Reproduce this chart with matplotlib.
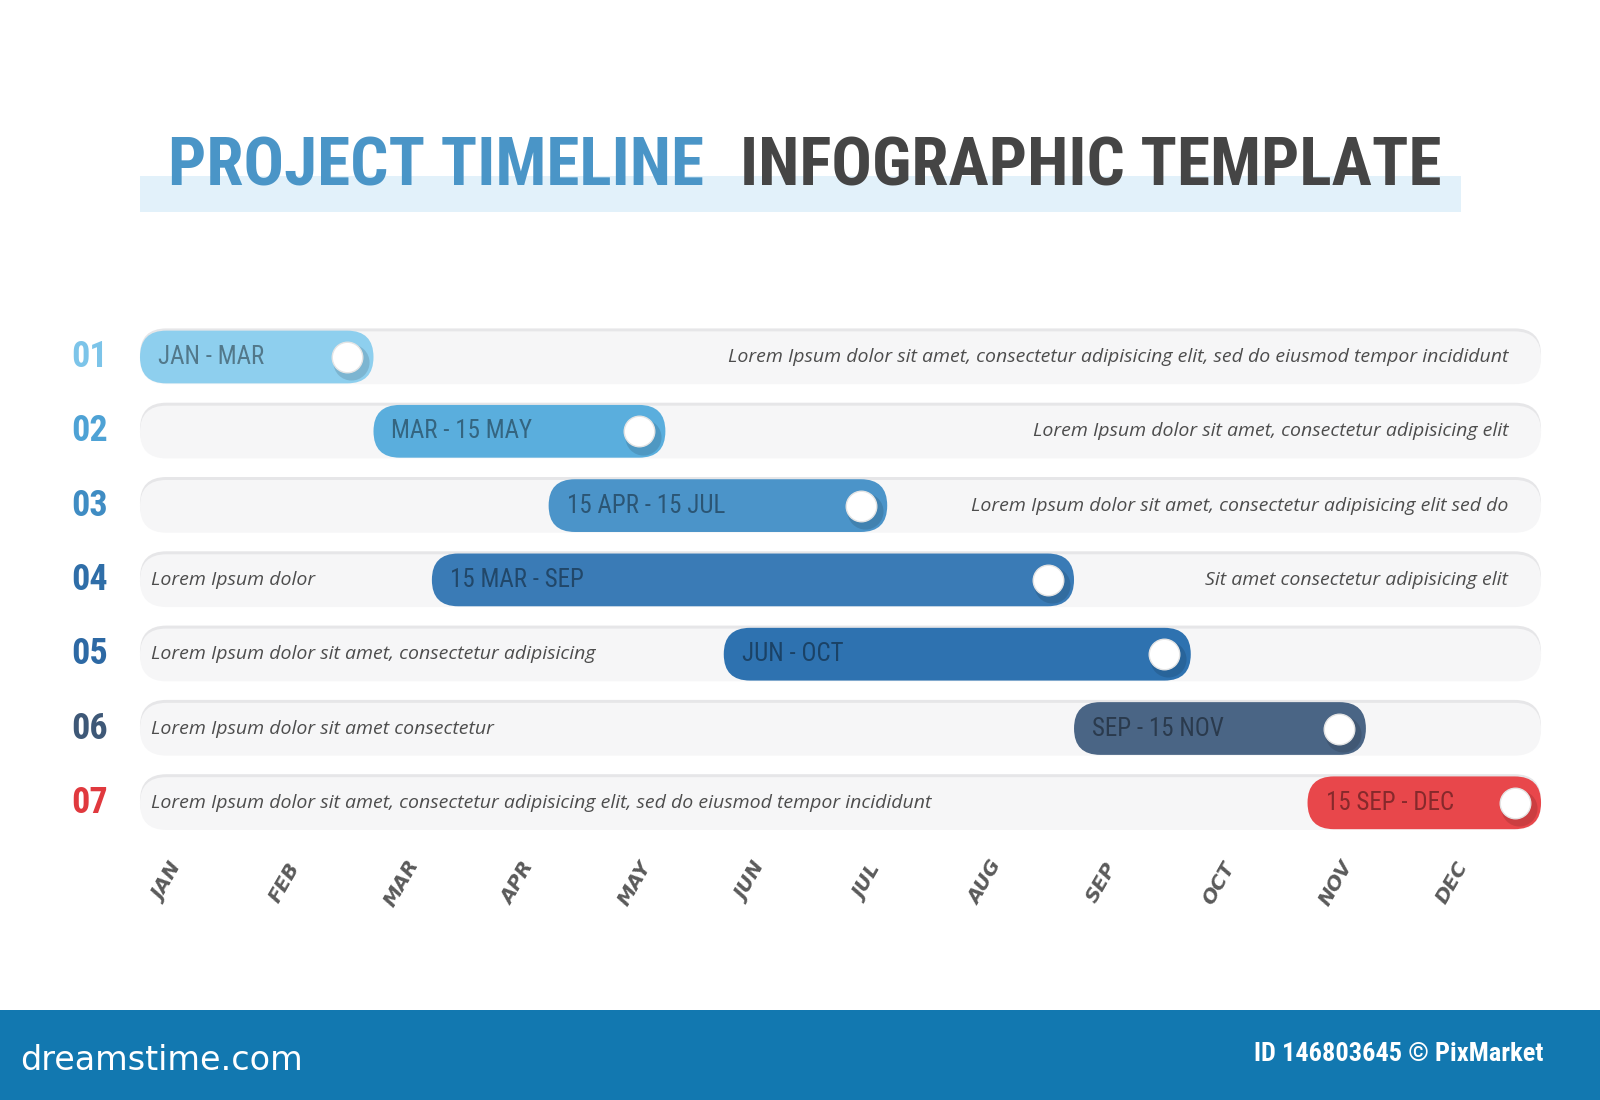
import matplotlib.pyplot as plt
from matplotlib.patches import FancyBboxPatch, Rectangle
from matplotlib import font_manager
from matplotlib.font_manager import FontProperties

# ---- data ----
row_ids = ['01', '02', '03', '04', '05', '06', '07']
bar_labels = ['JAN - MAR', 'MAR - 15 MAY', '15 APR - 15 JUL', '15 MAR - SEP',
              'JUN - OCT', 'SEP - 15 NOV', '15 SEP - DEC']
# bar start / end in months from the start of January
bar_start = [0.0, 2.0, 3.5, 2.5, 5.0, 8.0, 10.0]
bar_end = [2.0, 4.5, 6.4, 8.0, 9.0, 10.5, 12.0]
bar_colors = ['#8ecfee', '#5aaedd', '#4b94c9', '#3a7bb6', '#2e72b0', '#4a6585', '#e8474b']
id_colors = ['#7cc4e9', '#4ea2d5', '#3f8cc3', '#2f6ea8', '#2d69a4', '#3e5877', '#e0393e']
left_notes = ['', '', '', 'Lorem Ipsum dolor',
              'Lorem Ipsum dolor sit amet, consectetur adipisicing',
              'Lorem Ipsum dolor sit amet consectetur',
              'Lorem Ipsum dolor sit amet, consectetur adipisicing elit, sed do eiusmod tempor incididunt']
right_notes = ['Lorem Ipsum dolor sit amet, consectetur adipisicing elit, sed do eiusmod tempor incididunt',
               'Lorem Ipsum dolor sit amet, consectetur adipisicing elit',
               'Lorem Ipsum dolor sit amet, consectetur adipisicing elit sed do',
               'Sit amet consectetur adipisicing elit', '', '', '']
months = ['JAN', 'FEB', 'MAR', 'APR', 'MAY', 'JUN', 'JUL', 'AUG', 'SEP', 'OCT', 'NOV', 'DEC']


# ---- fonts: look for condensed faces, fall back to plain ones ----
def _w(f):
    w = f.weight
    return font_manager.weight_dict.get(w, 400) if isinstance(w, str) else int(w)


def pick_font(names, weights, italic=False, stretches=('condensed', 'semi-condensed'),
              fallback='DejaVu Sans'):
    styles = ('italic', 'oblique') if italic else ('normal',)
    for st in stretches:
        for nm in names:
            for wt in weights:
                for f in font_manager.fontManager.ttflist:
                    if f.name == nm and f.stretch == st and _w(f) == wt and f.style in styles:
                        return FontProperties(fname=f.fname)
    return FontProperties(family=fallback, weight=weights[0],
                          style='italic' if italic else 'normal')


cond_names = ['Roboto Condensed', 'Noto Sans', 'Open Sans', 'Roboto', 'Noto Sans Display',
              'DejaVu Sans', 'Liberation Sans Narrow']
f_bold = pick_font(cond_names, [700, 800, 600], fallback='Roboto')
f_reg = pick_font(cond_names, [400, 300, 500], fallback='Roboto')
f_note = pick_font(['Open Sans', 'Noto Sans', 'Roboto'], [400, 300], italic=True,
                   stretches=('normal',), fallback='Open Sans')
f_month = FontProperties(family='DejaVu Sans', weight='bold', style='italic')


def fp(base, size):
    p = base.copy()
    p.set_size(size)
    return p


fig = plt.figure(figsize=(16, 11), dpi=100)
ax = fig.add_axes([0, 0, 1, 1])
ax.set_xlim(-1.199, 12.505)
ax.set_ylim(10.0, -4.805)
ax.axis('off')

# pixel scale of the data units, used to keep pill ends round
p0 = ax.transData.transform((0, 0))
px_x = ax.transData.transform((1, 0))[0] - p0[0]
px_y = abs(ax.transData.transform((0, 1))[1] - p0[1])
m_asp = px_x / px_y
h = 0.71


def pill(x0, x1, y, color, z, dy=0.0):
    r = 0.499 * h / m_asp
    p = FancyBboxPatch((x0, y - h / 2 + dy), x1 - x0, h,
                       boxstyle=f'round,pad=0,rounding_size={r}',
                       mutation_aspect=m_asp, facecolor=color,
                       edgecolor='none', zorder=z)
    ax.add_patch(p)


for i in range(len(row_ids)):
    # track with a soft inset shadow on top
    pill(0, 12, i, '#e6e6e8', 1, dy=-0.03)
    pill(0, 12, i, '#f6f6f7', 2, dy=0.01)
    # coloured bar
    pill(bar_start[i], bar_end[i], i, bar_colors[i], 3)
    knob_x = bar_end[i] - 26.5 / px_x
    ax.plot(knob_x + 0.035, i + 0.07, 'o', ms=26, color='black', alpha=0.12,
            mec='none', zorder=4)
    ax.plot(knob_x, i, 'o', ms=22, mfc='white', mec='#e4e4e4', mew=1, zorder=5)
    ax.text(bar_start[i] + 18 / px_x, i, bar_labels[i], color='black', alpha=0.42,
            fontproperties=fp(f_reg, 18), ha='left', va='center', zorder=6)
    ax.text(-50 / px_x, i, row_ids[i], color=id_colors[i],
            fontproperties=fp(f_bold, 26), ha='center', va='center')
    if left_notes[i]:
        ax.text(11 / px_x, i, left_notes[i], color='#4d4d4d',
                fontproperties=fp(f_note, 14), ha='left', va='center', zorder=6)
    if right_notes[i]:
        ax.text(12 - 33 / px_x, i, right_notes[i], color='#4d4d4d',
                fontproperties=fp(f_note, 14), ha='right', va='center', zorder=6)

for j, m in enumerate(months):
    ax.text(j + 0.24, 7.08, m, rotation=60, color='#5a5a5a',
            fontproperties=fp(f_month, 14.5), ha='center', va='center')

# title with light blue band
fig.add_artist(Rectangle((140 / 1600, 1 - 212 / 1100), 1321 / 1600, 36 / 1100,
                         transform=fig.transFigure, facecolor='#e2f1fa',
                         edgecolor='none', zorder=0))
t1 = fig.text(168 / 1600, 1 - 167 / 1100, 'PROJECT TIMELINE', color='#4a95c7',
              fontproperties=fp(f_bold, 50), ha='left', va='center')
t2 = fig.text(1441 / 1600, 1 - 167 / 1100, 'INFOGRAPHIC TEMPLATE', color='#454545',
              fontproperties=fp(f_bold, 50), ha='right', va='center')
# fit the title words to the widths they take in the reference
renderer = fig.canvas.get_renderer()
for t, target in ((t1, 536), (t2, 702)):
    w = t.get_window_extent(renderer).width
    t.set_fontsize(min(64, 50 * target / w))

# footer band
fig.add_artist(Rectangle((0, 0), 1, 90 / 1100, transform=fig.transFigure,
                         facecolor='#1278b0', edgecolor='none', zorder=0))
fig.text(20 / 1600, 39 / 1100, 'dreamstime.com', color='white', fontsize=24,
         family='DejaVu Sans', ha='left', va='center')
fig.text(1543 / 1600, 46 / 1100, 'ID 146803645 \u00a9 PixMarket', color='white',
         fontproperties=fp(f_bold, 19), ha='right', va='center')

fig.savefig('out.png', dpi=100, facecolor='white')
